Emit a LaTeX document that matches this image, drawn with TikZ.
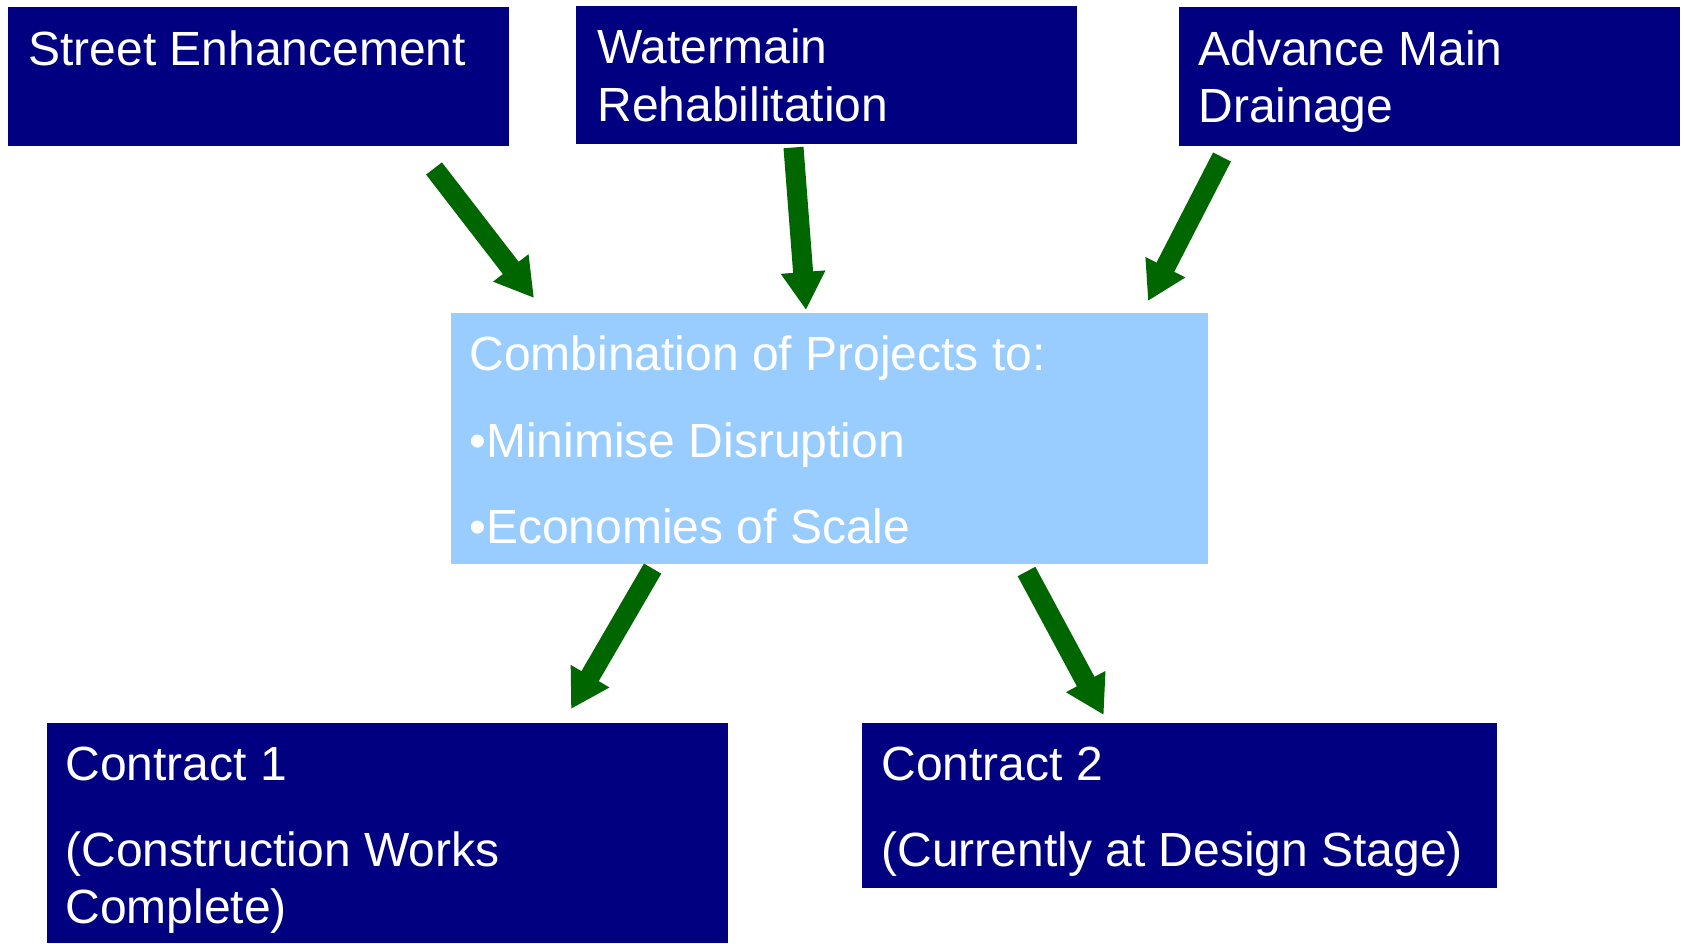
\documentclass[tikz,border=0pt]{standalone}
\usepackage{fontspec}
\setmainfont{Liberation Sans}
\usetikzlibrary{arrows.meta}
\definecolor{boxnavy}{HTML}{000080}
\definecolor{boxlight}{HTML}{99CCFF}
\definecolor{arrowgreen}{HTML}{006600}
\tikzset{
  navybox/.style={rectangle, fill=boxnavy, draw=none, inner sep=0pt},
  lightbox/.style={rectangle, fill=boxlight, draw=none, inner sep=0pt},
  txt/.style={inner sep=0pt, anchor=base west, text=white, font=\fontsize{24}{28.8}\selectfont},
  bigarrow/.style={draw=arrowgreen, line width=10pt, -{Triangle[length=19pt,width=21pt]}}
}
\begin{document}
\begin{tikzpicture}[x=0.5pt,y=-0.5pt]
\useasboundingbox (0,0) rectangle (1686,943);
\fill[white] (0,0) rectangle (1686,943);
% boxes
\node[navybox, minimum width=250.5pt, minimum height=69.5pt] (se) at (258.5,76.5) {};
\node[navybox, minimum width=250.5pt, minimum height=69pt] (wr) at (826.5,75) {};
\node[navybox, minimum width=250.75pt, minimum height=69.5pt] (amd) at (1429.25,76.5) {};
\node[lightbox, minimum width=378.5pt, minimum height=125.5pt] (comb) at (829.5,438.5) {};
\node[navybox, minimum width=340.25pt, minimum height=110pt] (c1) at (387.25,833) {};
\node[navybox, minimum width=317.5pt, minimum height=82.5pt] (c2) at (1179.5,805.5) {};
% texts
\node[txt] (se1) at (28,65) {Street Enhancement};
\node[txt] (wr1) at (597,63) {Watermain};
\node[txt] (wr2) at (597,121) {Rehabilitation};
\node[txt] (amd1) at (1198,65) {Advance Main};
\node[txt] (amd2) at (1198,122) {Drainage};
\node[txt] (cb1) at (469,370) {Combination of Projects to:};
\node[txt] (cb2) at (469,457) {•Minimise Disruption};
\node[txt] (cb3) at (469,543) {•Economies of Scale};
\node[txt] (c1a) at (65,780) {Contract 1};
\node[txt] (c1b) at (65,866) {(Construction Works};
\node[txt] (c1c) at (65,923) {Complete)};
\node[txt] (c2a) at (881,780) {Contract 2};
\node[txt] (c2b) at (881,866) {(Currently at Design Stage)};
% arrow end points
\coordinate (a1s) at (434,168.5);
\coordinate (a1e) at (534,298);
\coordinate (a2s) at (793.5,147.5);
\coordinate (a2e) at (806,310);
\coordinate (a3s) at (1222,157);
\coordinate (a3e) at (1148,301);
\coordinate (a4s) at (652.6,568.6);
\coordinate (a4e) at (571,709);
\coordinate (a5s) at (1026.5,571.5);
\coordinate (a5e) at (1103.7,715);
\draw[bigarrow] (a1s) -- (a1e);
\draw[bigarrow] (a2s) -- (a2e);
\draw[bigarrow] (a3s) -- (a3e);
\draw[bigarrow] (a4s) -- (a4e);
\draw[bigarrow] (a5s) -- (a5e);
\end{tikzpicture}
\end{document}
